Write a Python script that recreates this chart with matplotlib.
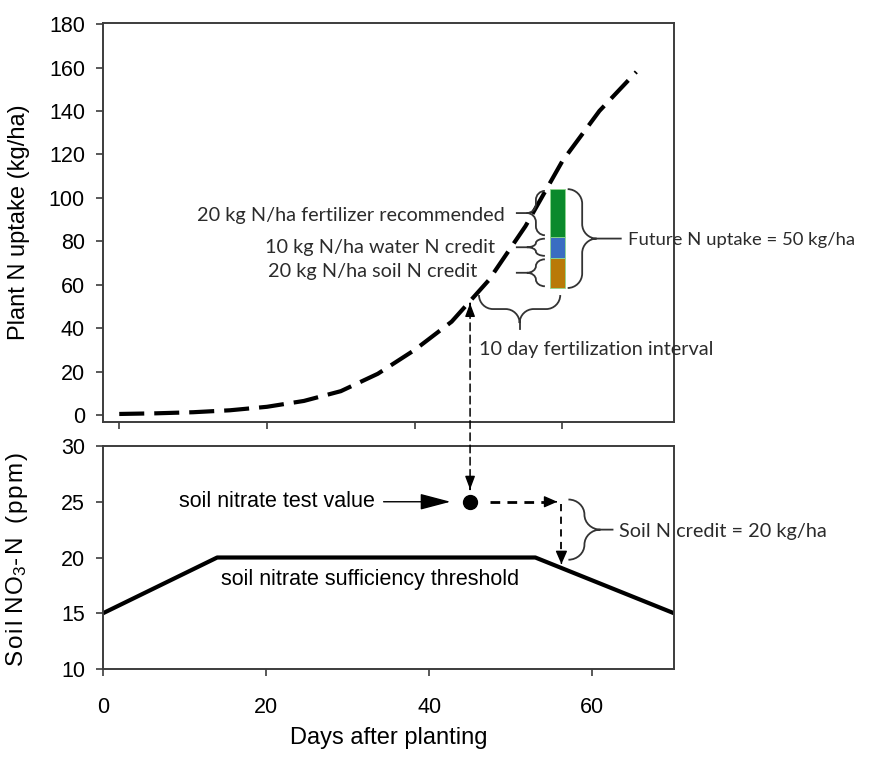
import numpy as np
import matplotlib
matplotlib.use('Agg')
import matplotlib.pyplot as plt
from matplotlib.path import Path
from matplotlib.patches import PathPatch, FancyArrowPatch, ConnectionPatch
from matplotlib.transforms import Affine2D, IdentityTransform

plt.rcParams['font.family'] = ['Liberation Sans', 'DejaVu Sans']
plt.rcParams['mathtext.fontset'] = 'custom'
plt.rcParams['mathtext.rm'] = 'Liberation Sans'
plt.rcParams['mathtext.default'] = 'regular'

########################## Data ##########################

uptake_days = [0, 5, 10, 15, 20, 25, 30, 35, 40, 45, 50, 55, 60, 65, 70]
uptake_kg = [0.5, 0.8, 1.3, 2.2, 3.8, 6.5, 11, 19, 30, 43, 62, 87, 117, 140, 158]

thresh_days = [0, 14, 53, 70]
thresh_ppm = [15, 20, 20, 15]

test_day = 45
test_ppm = 25
credit_day = 56.2
credit_end_ppm = 19.4

bar_day = 59.3
bar_base = 58.5
bar_heights = [14, 9.5, 22]
bar_colors = ['#b97a08', '#3a6dc2', '#0b8a2c']
bar_labels = ['20 kg N/ha soil N credit', '10 kg N/ha water N credit', '20 kg N/ha fertilizer recommended']

interval_days = [48.7, 59.7]

CAL = ['Lato', 'DejaVu Sans']
TXT = '#2b2b2b'
SPINE = '#3c3c3c'
TICK_FS = 15.5
LABEL_FS = 17
NOTE_FS = 15.5
CAL_FS = 14.3

########################## Figure ##########################

W, H = 874, 759
fig = plt.figure(figsize=(W / 100, H / 100), dpi=100)
ref = Affine2D().scale(1 / W, -1 / H).translate(0, 1) + fig.transFigure

ax1 = fig.add_axes([103 / W, 1 - 422 / H, 571 / W, 399 / H])
ax2 = fig.add_axes([103 / W, 1 - 669 / H, 571 / W, 223 / H])

for ax in (ax1, ax2):
    for s in ax.spines.values():
        s.set_color(SPINE)
        s.set_linewidth(1.4)
    ax.tick_params(direction='out', length=5, width=1.2, color=SPINE, labelsize=TICK_FS)
    ax.tick_params(axis='y', pad=8)

ax1.set_xlim(-2.2, 75.1)
ax1.set_ylim(-3.2, 180.5)
ax1.set_xticks([0, 20, 40, 60])
ax1.set_xticklabels([])
ax1.set_yticks(np.arange(0, 181, 20))
ax1.set_ylabel('Plant N uptake (kg/ha)', fontsize=LABEL_FS)
ax1.yaxis.set_label_coords(-0.128, 0.5)

hs = '\u200a'
soil_label = hs.join('Soil') + ' ' + hs.join('NO') + '$_3$' + hs.join('-N') + '  ' + hs.join('(ppm)')

ax2.set_xlim(0, 70)
ax2.set_ylim(10, 30)
ax2.set_xticks([0, 20, 40, 60])
ax2.set_yticks([10, 15, 20, 25, 30])
ax2.tick_params(axis='x', pad=15)
ax2.set_ylabel(soil_label, fontsize=17.5)
ax2.yaxis.set_label_coords(-0.128, 0.49)
ax2.set_xlabel('Days after planting', fontsize=LABEL_FS)
ax2.xaxis.set_label_coords(0.5, -0.26)

# uptake curve
ax1.plot(uptake_days, uptake_kg, color='black', lw=3, dashes=(6, 2.4), dash_capstyle='butt')

# stacked bar
bottom = bar_base
seg = []
for h, c in zip(bar_heights, bar_colors):
    ax1.bar(bar_day, h, bottom=bottom, width=2.0, color=c, edgecolor='#8fd98f', linewidth=0.6, zorder=3)
    seg.append((bottom, bottom + h))
    bottom += h

# threshold line and test point
ax2.plot(thresh_days, thresh_ppm, color='black', lw=3, solid_capstyle='butt')
ax2.plot([test_day], [test_ppm], 'o', color='black', ms=10)


def brace(p0, p1, depth, tail=0.0, lw=1.3, color='#333333'):
    p0 = np.asarray(p0, float)
    p1 = np.asarray(p1, float)
    L = np.hypot(*(p1 - p0))
    u = (p1 - p0) / L
    n = np.array([-u[1], u[0]])
    q = depth / 2.0
    r = min(abs(q), L / 4)
    m = L / 2

    def P(a, b):
        return p0 + a * u + b * n

    verts = [P(0, 0), P(0, 0.55 * q), P(0.45 * r, q), P(r, q),
             P(m - r, q),
             P(m - 0.45 * r, q), P(m, 1.45 * q), P(m, 2 * q),
             P(m, 1.45 * q), P(m + 0.45 * r, q), P(m + r, q),
             P(L - r, q),
             P(L - 0.45 * r, q), P(L, 0.55 * q), P(L, 0)]
    codes = [Path.MOVETO, Path.CURVE4, Path.CURVE4, Path.CURVE4,
             Path.LINETO,
             Path.CURVE4, Path.CURVE4, Path.CURVE4,
             Path.CURVE4, Path.CURVE4, Path.CURVE4,
             Path.LINETO,
             Path.CURVE4, Path.CURVE4, Path.CURVE4]
    if tail:
        verts += [P(m, 2 * q), P(m, 2 * q + np.sign(q) * tail)]
        codes += [Path.MOVETO, Path.LINETO]
    fig.add_artist(PathPatch(Path(verts, codes), transform=IdentityTransform(),
                             fill=False, lw=lw, ec=color, capstyle='butt'))


def head(ax, tip, frm, length, half, lw=1.0):
    tip = np.asarray(tip, float)
    frm = np.asarray(frm, float)
    start = tip - 0.02 * (tip - frm)
    ax.add_patch(FancyArrowPatch(start, tip, arrowstyle='-|>,head_length=%g,head_width=%g' % (length, half),
                                 mutation_scale=10, color='black', lw=lw, shrinkA=0, shrinkB=0))


# braces next to the bar segments
d = ax1.transData
left_px = d.transform((bar_day - 1.0, 0))[0]
right_px = d.transform((bar_day + 1.0, 0))[0]
for lo, hi in seg:
    y0 = d.transform((0, lo + 0.8))[1]
    y1 = d.transform((0, hi - 0.8))[1]
    brace((left_px - 5, y0), (left_px - 5, y1), 18, tail=11)

y0 = d.transform((0, seg[0][0]))[1]
y1 = d.transform((0, seg[-1][1]))[1]
brace((right_px + 3, y0), (right_px + 3, y1), -29, tail=25)

# 10 day interval brace
x0 = d.transform((interval_days[0], 0))[0]
x1 = d.transform((interval_days[1], 0))[0]
yb = d.transform((0, 0))[1]
ytop = yb + (415 - 295)
brace((x0, ytop), (x1, ytop), -28)
tip_x = (x0 + x1) / 2
fig.add_artist(plt.Line2D([tip_x, tip_x], [ytop - 28, ytop - 34], transform=IdentityTransform(), lw=1.3, color='#333333'))

# labels in the upper panel
fig.text(505, 215, bar_labels[2], transform=ref, ha='right', va='center', fontsize=CAL_FS, family=CAL, color=TXT)
fig.text(495, 248, bar_labels[1], transform=ref, ha='right', va='center', fontsize=CAL_FS, family=CAL, color=TXT)
fig.text(477, 272, bar_labels[0], transform=ref, ha='right', va='center', fontsize=CAL_FS, family=CAL, color=TXT)
fig.text(628, 240, 'Future N uptake = 50 kg/ha', transform=ref, ha='left', va='center', fontsize=13.3, family=CAL, color=TXT)
fig.text(479, 350, '10 day fertilization interval', transform=ref, ha='left', va='center', fontsize=CAL_FS, family=CAL, color=TXT)

# connector between panels
x_top = ax1.transData.inverted().transform(ax2.transData.transform((test_day, 0)))[0]
y_curve = np.interp(x_top, uptake_days, uptake_kg) - 1.0
con = ConnectionPatch(xyA=(test_day, 26.1), coordsA=ax2.transData, xyB=(x_top, y_curve), coordsB=ax1.transData,
                      arrowstyle='-', lw=1.1, color='black', linestyle=(0, (5, 3)))
fig.add_artist(con)
head(ax1, (x_top, y_curve), (x_top, y_curve - 10), 0.8, 0.3)
head(ax2, (test_day, 26.1), (test_day, 28), 0.8, 0.3)

# soil nitrate test value arrow
ax2.add_patch(FancyArrowPatch((34.4, test_ppm), (42.6, test_ppm), arrowstyle='-|>,head_length=1.9,head_width=0.5',
                              mutation_scale=10, color='black', lw=1.0, shrinkA=0, shrinkB=0))
ax2.text(33.3, test_ppm, 'soil nitrate test value', ha='right', va='center', fontsize=NOTE_FS)

# soil N credit arrows
ax2.plot([47.4, 55.2], [test_ppm, test_ppm], color='black', lw=2, dashes=(3.5, 2.6))
head(ax2, (55.7, test_ppm), (47.4, test_ppm), 0.8, 0.35)
ax2.plot([credit_day, credit_day], [24.8, credit_end_ppm + 0.4], color='black', lw=1.3, dashes=(4, 3))
head(ax2, (credit_day, credit_end_ppm), (credit_day, 24.8), 0.8, 0.35)

d2 = ax2.transData
bx = d2.transform((credit_day, 0))[0] + 7
by0 = d2.transform((0, 19.8))[1]
by1 = d2.transform((0, 25.2))[1]
brace((bx, by0), (bx, by1), -32, tail=13)
fig.text(619, 531, 'Soil N credit = 20 kg/ha', transform=ref, ha='left', va='center', fontsize=CAL_FS, family=CAL, color=TXT)

ax2.text(32.8, 18.05, 'soil nitrate sufficiency threshold', ha='center', va='center', fontsize=NOTE_FS)

fig.savefig('out.png', dpi=100)
